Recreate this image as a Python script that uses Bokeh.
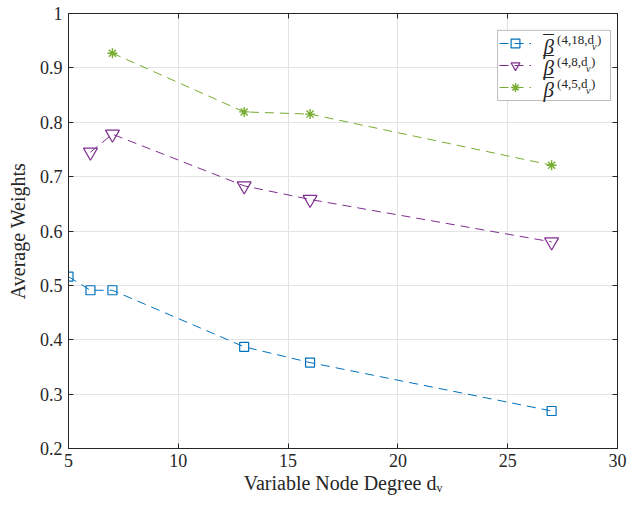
from bokeh.plotting import figure
from bokeh.models import Range1d, Legend, LegendItem, Label, FixedTicker, BoxAnnotation, LinearAxis
from bokeh.embed import file_html
from bokeh.resources import INLINE

x_blue = [5, 6, 7, 13, 16, 27]
y_blue = [0.516, 0.491, 0.491, 0.387, 0.358, 0.269]
x_purple = [6, 7, 13, 16, 27]
y_purple = [0.745, 0.778, 0.683, 0.658, 0.580]
x_green = [7, 13, 16, 27]
y_green = [0.927, 0.819, 0.815, 0.721]

x_ticks = [5, 10, 15, 20, 25, 30]
y_ticks = [0.2, 0.3, 0.4, 0.5, 0.6, 0.7, 0.8, 0.9, 1.0]
y_tick_labels = {0.2: "0.2", 0.3: "0.3", 0.4: "0.4", 0.5: "0.5", 0.6: "0.6",
                 0.7: "0.7", 0.8: "0.8", 0.9: "0.9", 1.0: "1"}
legend_sups = ["(4,18,d", "(4,8,d", "(4,5,d"]
legend_sup_widths = [35, 29, 29]  # px, used to place the d_v subscript and ")"

BLUE = "#0072BD"
PURPLE = "#7E2F8E"
GREEN = "#77AC30"
FONT = "Liberation Serif"
DARK = "#262626"

p = figure(width=629, height=508, output_backend="svg", toolbar_location=None,
           x_range=Range1d(5, 30), y_range=Range1d(0.2, 1.0),
           min_border_left=68, min_border_right=12, min_border_top=13, min_border_bottom=60)
p.background_fill_color = "white"
p.border_fill_color = "white"
p.outline_line_color = DARK
p.outline_line_width = 1

right_ax = LinearAxis(ticker=FixedTicker(ticks=y_ticks), major_label_text_font_size="1px",
                      major_label_overrides={t: "" for t in y_ticks},
                      major_label_standoff=0, major_tick_in=5, major_tick_out=0,
                      minor_tick_in=0, minor_tick_out=0,
                      axis_line_color=DARK, major_tick_line_color=DARK)
top_ax = LinearAxis(ticker=FixedTicker(ticks=x_ticks), major_label_text_font_size="1px",
                    major_label_overrides={t: "" for t in x_ticks},
                    major_label_standoff=0, major_tick_in=5, major_tick_out=0,
                    minor_tick_in=0, minor_tick_out=0,
                    axis_line_color=DARK, major_tick_line_color=DARK)
p.add_layout(right_ax, "right")
p.add_layout(top_ax, "above")

xa = p.below[0]
ya = p.left[0]
for ax in (xa, ya):
    ax.major_tick_in = 5
    ax.major_tick_out = 0
    ax.minor_tick_in = 0
    ax.minor_tick_out = 0
    ax.axis_line_color = DARK
    ax.major_tick_line_color = DARK
    ax.major_label_text_font = FONT
    ax.major_label_text_font_size = "18px"
    ax.major_label_text_color = DARK
    ax.axis_label_text_font = FONT
    ax.axis_label_text_font_size = "20px"
    ax.axis_label_text_font_style = "normal"
    ax.axis_label_text_color = DARK

xa.ticker = FixedTicker(ticks=x_ticks)
ya.ticker = FixedTicker(ticks=y_ticks)
ya.major_label_overrides = y_tick_labels
xa.axis_label = "Variable Node Degree dᵥ"
ya.axis_label = "Average Weights"
xa.axis_label_standoff = 2
ya.axis_label_standoff = 8
xa.major_label_standoff = 5
ya.major_label_standoff = 6

p.xgrid.ticker = FixedTicker(ticks=x_ticks)
p.ygrid.ticker = FixedTicker(ticks=y_ticks)
p.grid.grid_line_color = "#e3e3e3"
p.grid.grid_line_alpha = 1.0

# legend frame (covers the grid, under the legend entries)
p.add_layout(BoxAnnotation(left=24.54, right=29.68, bottom=0.840, top=0.969,
                           fill_color="white", fill_alpha=1.0,
                           line_color=DARK, line_width=1, level="underlay"))

DASH = "9 6"
l1 = p.line(x_blue, y_blue, line_color=BLUE, line_width=1, line_dash=DASH)
m1 = p.scatter(x_blue, y_blue, marker="square", size=9, line_color=BLUE,
               fill_color=None, line_width=1.2)
l2 = p.line(x_purple, y_purple, line_color=PURPLE, line_width=1, line_dash=DASH)
m2 = p.scatter(x_purple, y_purple, marker="inverted_triangle", size=14, line_color=PURPLE,
               fill_color=None, line_width=1.2)
l3 = p.line(x_green, y_green, line_color=GREEN, line_width=1, line_dash=DASH)
m3 = p.scatter(x_green, y_green, marker="asterisk", size=10, line_color=GREEN,
               line_width=1.4)

# legend samples only; the label texts are drawn below as Labels
legend = Legend(items=[
    LegendItem(label=" ", renderers=[l1, m1]),
    LegendItem(label=" ", renderers=[l2, m2]),
    LegendItem(label=" ", renderers=[l3, m3]),
], location=(429, 348))
legend.label_text_font_size = "1px"
legend.label_width = 10
legend.label_height = 10
legend.label_standoff = 0
legend.glyph_width = 32
legend.glyph_height = 22
legend.spacing = 0
legend.padding = 2
legend.margin = 0
legend.border_line_alpha = 0
legend.background_fill_alpha = 0
p.add_layout(legend)

row_y = [0.9448, 0.9044, 0.8640]
for txt, w, yy in zip(legend_sups, legend_sup_widths, row_y):
    common = dict(text_font=FONT, level="overlay", text_color=DARK, text_baseline="middle")
    p.add_layout(Label(x=26.63, y=yy, text="β", text_font_size="21px", text_font_style="italic",
                       y_offset=-3, **common))
    p.add_layout(Label(x=26.86, y=yy, text="¯", text_font_size="21px", text_align="center",
                       y_offset=1, **common))
    p.add_layout(Label(x=27.25, y=yy, text=txt, text_font_size="13px", y_offset=4, **common))
    p.add_layout(Label(x=27.25, y=yy, text="v", text_font_size="10px", text_font_style="italic",
                       x_offset=w, y_offset=-3, **common))
    p.add_layout(Label(x=27.25, y=yy, text=")", text_font_size="13px",
                       x_offset=w + 5, y_offset=4, **common))

with open("out.html", "w") as f:
    f.write(file_html(p, INLINE))
